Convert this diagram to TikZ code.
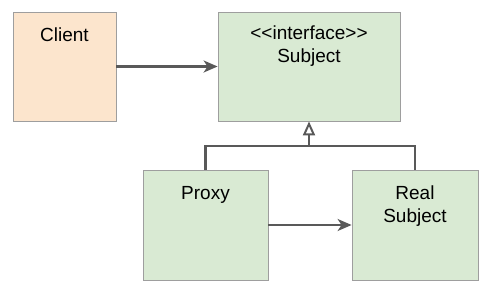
\documentclass[tikz,border=0pt]{standalone}
\usepackage{fontspec}
\setmainfont{Liberation Sans}
\usepackage{xcolor}
\usetikzlibrary{arrows.meta,positioning}

\definecolor{peach}{HTML}{FCE5CD}
\definecolor{mint}{HTML}{D9EAD3}
\definecolor{edge}{HTML}{9E9E9E}
\definecolor{wire}{HTML}{595959}

\begin{document}
\begin{tikzpicture}[x=1pt,y=1pt,font=\fontsize{19}{23}\selectfont,
    classbox/.style={draw=edge,line width=0.8pt,inner sep=0pt},
    title/.style={anchor=north,align=center,yshift=-13pt},
    uses/.style={draw=wire,line width=2.2pt,-{Stealth[length=14pt,width=12pt,inset=4pt]}},
    realizes/.style={draw=wire,line width=2.2pt,-{Triangle[open,length=14pt,width=12pt,line width=2pt]}}]
    \useasboundingbox (0,0) rectangle (491,292);
    % classes
    \node[classbox,fill=peach,minimum width=103pt,minimum height=109pt,
          label={[title]north:Client}] (client) at (64.5,225.5) {};
    \node[classbox,fill=mint,minimum width=182pt,minimum height=109pt,
          label={[title,yshift=2pt]north:{{<}{<}interface{>}{>}\\Subject}}] (subject) at (309,225.5) {};
    \node[classbox,fill=mint,minimum width=125pt,minimum height=110pt,
          label={[title]north:Proxy}] (proxy) at (205.5,67) {};
    \node[classbox,fill=mint,minimum width=126pt,minimum height=110pt,
          label={[title]north:{Real\\Subject}}] (real) at (415,67) {};
    % connectors
    \coordinate (join) at (subject.south |- 0,146);
    \draw[uses] (client) -- (subject);
    \draw[uses] (proxy) -- (real);
    \draw[draw=wire,line width=2.2pt] (proxy.north) |- (join) -| (real.north);
    \draw[realizes] (join) -- (subject.south);
\end{tikzpicture}
\end{document}
